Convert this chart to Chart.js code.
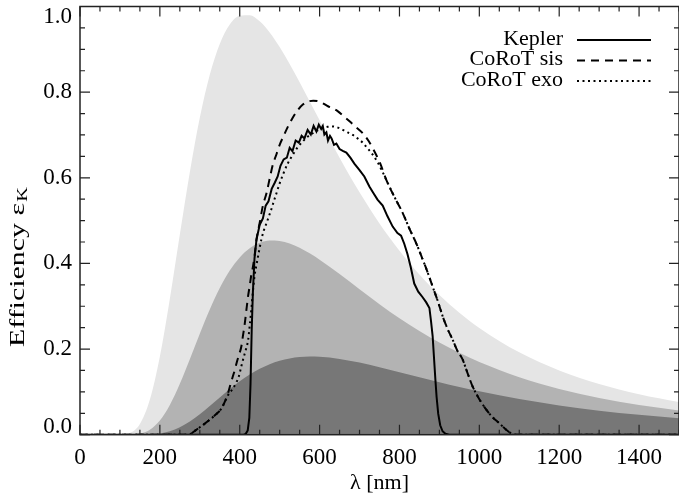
<!DOCTYPE html>
<html>
<head>
<meta charset="utf-8">
<script src="https://cdn.jsdelivr.net/npm/chart.js@4/dist/chart.umd.min.js"></script>
<style>
  html, body { margin: 0; padding: 0; background: #fff; }
  #wrap { width: 679px; height: 497px; position: relative; }
</style>
</head>
<body>
<div id="wrap"><canvas id="c"></canvas></div>
<script>
"use strict";
// wavelength grid (nm) for the three grey black-body shapes
const wl     = [0, 50, 100, 125, 150, 175, 200, 225, 250, 275, 300, 325, 350, 375, 400, 425, 450, 475, 500, 525, 550, 575, 600, 650, 700, 750, 800, 850, 900, 950, 1000, 1100, 1200, 1300, 1400, 1500];
const bbHot  = [0, 0, 0.0002, 0.0040, 0.0250, 0.0820, 0.1826, 0.3175, 0.4673, 0.6130, 0.7401, 0.8406, 0.9126, 0.9577, 0.9783, 0.9795, 0.9654, 0.9395, 0.9055, 0.8660, 0.8233, 0.7787, 0.7342, 0.6470, 0.5661, 0.4935, 0.4298, 0.3742, 0.3262, 0.2849, 0.2494, 0.1924, 0.1502, 0.1185, 0.0945, 0.0761];
const bbMid  = [0, 0, 0, 0.0003, 0.0026, 0.0116, 0.0330, 0.0693, 0.1187, 0.1763, 0.2360, 0.2926, 0.3424, 0.3832, 0.4141, 0.4355, 0.4483, 0.4536, 0.4526, 0.4466, 0.4366, 0.4237, 0.4088, 0.3751, 0.3397, 0.3049, 0.2722, 0.2422, 0.2152, 0.1911, 0.1698, 0.1344, 0.1070, 0.0858, 0.0695, 0.0567];
const bbCool = [0, 0, 0, 0, 0.0001, 0.0008, 0.0030, 0.0082, 0.0175, 0.0308, 0.0477, 0.0669, 0.0869, 0.1065, 0.1246, 0.1406, 0.1539, 0.1646, 0.1726, 0.1781, 0.1812, 0.1824, 0.1820, 0.1770, 0.1684, 0.1576, 0.1460, 0.1341, 0.1225, 0.1115, 0.1012, 0.0831, 0.0682, 0.0561, 0.0464, 0.0385];

// Kepler response (jagged measured curve)
const keplerWl  = [0, 300, 410, 415, 420, 424, 427, 430, 433, 437, 442, 450, 458, 465, 472, 480, 488, 495, 502, 510, 518, 525, 532, 540, 548, 555, 562, 570, 578, 585, 592, 598, 604, 608, 612, 617, 621, 626, 630, 636, 642, 650, 658, 667, 677, 687, 700, 712, 725, 735, 745, 758, 770, 783, 795, 804, 812, 820, 828, 837, 847, 858, 867, 875, 879, 883, 887, 890, 893, 897, 902, 908, 915, 925, 1500];
const keplerEff = [0, 0, 0, 0.002, 0.01, 0.039, 0.118, 0.245, 0.334, 0.412, 0.456, 0.49, 0.505, 0.535, 0.545, 0.574, 0.589, 0.603, 0.628, 0.643, 0.647, 0.670, 0.662, 0.687, 0.682, 0.698, 0.692, 0.712, 0.701, 0.721, 0.708, 0.724, 0.714, 0.721, 0.701, 0.706, 0.687, 0.698, 0.692, 0.677, 0.680, 0.667, 0.663, 0.659, 0.647, 0.633, 0.618, 0.603, 0.579, 0.564, 0.549, 0.535, 0.510, 0.486, 0.471, 0.465, 0.446, 0.422, 0.392, 0.353, 0.334, 0.321, 0.309, 0.296, 0.265, 0.231, 0.172, 0.128, 0.088, 0.049, 0.022, 0.008, 0.002, 0, 0];

// CoRoT seismology channel
const sisWl  = [0, 270, 292, 310, 325, 340, 354, 363, 371, 377, 383, 388, 392, 398, 404, 408, 412, 417, 421, 425, 429, 433, 437, 442, 450, 458, 467, 475, 483, 492, 500, 510, 521, 533, 546, 558, 571, 584, 596, 608, 621, 634, 646, 660, 675, 690, 708, 722, 737, 752, 767, 787, 808, 825, 842, 857, 871, 883, 896, 908, 920, 933, 945, 958, 970, 983, 1000, 1017, 1033, 1050, 1062, 1075, 1090, 1500];
const sisEff = [0, 0, 0.012, 0.024, 0.035, 0.047, 0.061, 0.078, 0.098, 0.118, 0.137, 0.152, 0.167, 0.186, 0.206, 0.231, 0.255, 0.294, 0.324, 0.348, 0.373, 0.392, 0.417, 0.456, 0.495, 0.535, 0.564, 0.598, 0.631, 0.655, 0.677, 0.698, 0.720, 0.741, 0.759, 0.771, 0.778, 0.780, 0.779, 0.774, 0.767, 0.762, 0.755, 0.744, 0.732, 0.719, 0.704, 0.687, 0.662, 0.633, 0.595, 0.556, 0.518, 0.481, 0.447, 0.412, 0.378, 0.346, 0.312, 0.277, 0.248, 0.222, 0.196, 0.176, 0.145, 0.113, 0.083, 0.059, 0.041, 0.027, 0.016, 0.006, 0, 0];

// CoRoT exoplanet channel
const exoWl  = [0, 270, 292, 310, 325, 340, 354, 363, 371, 383, 392, 398, 404, 410, 416, 421, 425, 429, 433, 437, 442, 446, 454, 460, 467, 473, 479, 485, 492, 500, 508, 520, 533, 545, 558, 570, 583, 595, 608, 620, 633, 646, 658, 670, 683, 695, 708, 720, 733, 746, 757, 767, 787, 808, 825, 842, 857, 871, 883, 896, 908, 920, 933, 945, 958, 970, 983, 1000, 1017, 1033, 1050, 1062, 1075, 1090, 1500];
const exoEff = [0, 0, 0.012, 0.024, 0.035, 0.047, 0.061, 0.077, 0.093, 0.108, 0.123, 0.137, 0.160, 0.181, 0.201, 0.221, 0.255, 0.292, 0.334, 0.370, 0.397, 0.417, 0.455, 0.476, 0.494, 0.510, 0.526, 0.544, 0.564, 0.587, 0.607, 0.633, 0.654, 0.671, 0.685, 0.696, 0.704, 0.711, 0.716, 0.719, 0.720, 0.717, 0.712, 0.706, 0.700, 0.692, 0.682, 0.669, 0.654, 0.635, 0.615, 0.595, 0.556, 0.518, 0.481, 0.447, 0.412, 0.378, 0.346, 0.312, 0.277, 0.248, 0.222, 0.196, 0.176, 0.145, 0.113, 0.083, 0.059, 0.041, 0.027, 0.016, 0.006, 0, 0];

const xTicks = [0, 200, 400, 600, 800, 1000, 1200, 1400];
const yTicks = [0, 0.2, 0.4, 0.6, 0.8, 1.0];
const labels = ["Kepler", "CoRoT sis", "CoRoT exo"];

const SERIF = "'Liberation Serif', 'DejaVu Serif', serif";
const pts = (xs, ys) => xs.map((x, i) => ({ x: x, y: ys[i] }));
const yLab = v => Number(v).toFixed(1);

const area = (data, color, ord) => ({ data: data, backgroundColor: color, fill: "origin",
  borderWidth: 0, pointRadius: 0, cubicInterpolationMode: "monotone", order: ord });
const resp = (label, data, dash, ord, smooth) => ({ label: label, data: data, borderColor: "#000",
  borderWidth: 2, borderDash: dash, fill: false, pointRadius: 0, order: ord,
  cubicInterpolationMode: smooth ? "monotone" : "default", tension: 0 });

// frame with inward ticks, IDL style, drawn over the fills
const frame = {
  id: "frame",
  afterDatasetsDraw(chart){
    const { ctx, chartArea: a, scales: { x, y } } = chart;
    ctx.save();
    ctx.strokeStyle = "#222"; ctx.lineWidth = 1.5;
    ctx.strokeRect(a.left, a.top, a.right - a.left, a.bottom - a.top);
    ctx.lineWidth = 1.2;
    ctx.beginPath();
    for(let v = 0; v <= 1500; v += 50){
      const px = x.getPixelForValue(v), len = v % 200 === 0 ? 10 : 5;
      ctx.moveTo(px, a.bottom); ctx.lineTo(px, a.bottom - len);
      ctx.moveTo(px, a.top); ctx.lineTo(px, a.top + len);
    }
    for(let k = 0; k <= 20; k++){
      const py = y.getPixelForValue(k * 0.05), len = k % 4 === 0 ? 10 : 5;
      ctx.moveTo(a.left, py); ctx.lineTo(a.left + len, py);
      ctx.moveTo(a.right, py); ctx.lineTo(a.right - len, py);
    }
    ctx.stroke();
    ctx.restore();
  },
  afterDraw(chart){
    const { ctx, chartArea: a, scales: { y } } = chart;
    ctx.save();
    ctx.fillStyle = "#000";
    ctx.font = "23px " + SERIF;
    // end labels sit inside the axis span
    ctx.textAlign = "right";
    ctx.textBaseline = "top";
    ctx.fillText(yLab(yTicks[yTicks.length - 1]), a.left - 8, y.getPixelForValue(yTicks[yTicks.length - 1]) - 1);
    ctx.textBaseline = "bottom";
    ctx.fillText(yLab(yTicks[0]), a.left - 8, y.getPixelForValue(yTicks[0]) + 4);
    // legend: text right-aligned, sample line to its right
    ctx.font = "22px " + SERIF;
    ctx.textBaseline = "middle";
    const rows = [39, 59.5, 80];
    chart.data.datasets.filter(d => d.label).forEach((d, i) => {
      ctx.fillText(d.label, 563, rows[i]);
      ctx.beginPath();
      ctx.setLineDash(d.borderDash || []);
      ctx.strokeStyle = "#000"; ctx.lineWidth = 2;
      ctx.moveTo(577, rows[i] + 1); ctx.lineTo(651, rows[i] + 1);
      ctx.stroke();
    });
    ctx.setLineDash([]);
    // x title
    ctx.textAlign = "center";
    ctx.fillText("λ [nm]", (a.left + a.right) / 2, 483);
    // y title with subscript, stretched along the axis like the original
    ctx.translate(18, 267);
    ctx.rotate(-Math.PI / 2);
    const main = "Efficiency ε";
    ctx.font = "22px " + SERIF;
    const w1 = ctx.measureText(main).width;
    ctx.font = "15px " + SERIF;
    const w2 = ctx.measureText("K").width;
    ctx.scale(160 / (w1 + w2 + 1), 1);
    const x0 = -(w1 + w2 + 1) / 2;
    ctx.textAlign = "left";
    ctx.font = "22px " + SERIF;
    ctx.fillText(main, x0, 0);
    ctx.font = "15px " + SERIF;
    ctx.fillText("K", x0 + w1 + 1, 5);
    ctx.restore();
  }
};

new Chart(document.getElementById("c"), {
  type: "line",
  data: { datasets: [
    resp(labels[0], pts(keplerWl, keplerEff), [], 0, false),
    resp(labels[1], pts(sisWl, sisEff), [8, 6], 0, true),
    resp(labels[2], pts(exoWl, exoEff), [2, 3.5], 0, true),
    area(pts(wl, bbCool), "#777777", 1),
    area(pts(wl, bbMid), "#b3b3b3", 2),
    area(pts(wl, bbHot), "#e5e5e5", 3)
  ]},
  options: {
    responsive: true, maintainAspectRatio: false, animation: false,
    layout: { padding: { top: 6.5, right: 0, left: 0, bottom: 0 } },
    plugins: { legend: { display: false }, tooltip: { enabled: false } },
    scales: {
      x: { type: "linear", min: 0, max: 1500,
        grid: { display: false, drawTicks: false }, border: { display: false },
        afterBuildTicks: s => { s.ticks = xTicks.map(v => ({ value: v })); },
        afterFit: s => { s.height = 62.3; s.paddingLeft = 0; s.paddingRight = 0; },
        ticks: { color: "#000", padding: 9, maxRotation: 0, autoSkip: false,
          font: { family: SERIF, size: 23 }, callback: v => String(v) } },
      y: { min: 0, max: 1.0,
        grid: { display: false, drawTicks: false }, border: { display: false },
        afterBuildTicks: s => { s.ticks = yTicks.map(v => ({ value: v })); },
        afterFit: s => { s.width = 80; s.paddingTop = 0; s.paddingBottom = 0; },
        ticks: { color: "#000", padding: 8, autoSkip: false,
          font: { family: SERIF, size: 23 },
          // first and last labels are drawn by the frame plugin
          callback: v => (v === yTicks[0] || v === yTicks[yTicks.length - 1]) ? "" : yLab(v) } }
    }
  },
  plugins: [frame]
});
</script>
</body>
</html>
